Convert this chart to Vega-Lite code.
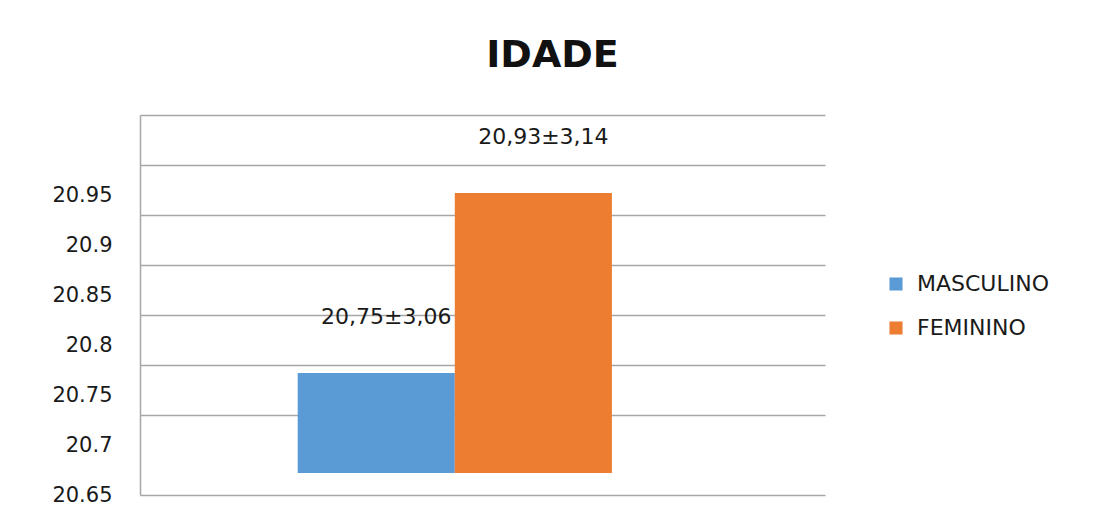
{
  "$schema": "https://vega.github.io/schema/vega-lite/v6.json",
  "width": 685,
  "height": 380,
  "autosize": {"type": "none"},
  "padding": {"left": 140, "top": 115, "right": 270, "bottom": 29},
  "background": "white",
  "config": {
    "font": "DejaVu Sans",
    "view": {"stroke": null},
    "axis": {"labelFont": "DejaVu Sans", "labelColor": "#1a1a1a"}
  },
  "title": {
    "text": "IDADE",
    "font": "DejaVu Sans",
    "fontSize": 38,
    "fontWeight": "bold",
    "color": "#111111",
    "anchor": "middle",
    "frame": "group",
    "dx": 70,
    "offset": 40
  },
  "data": {
    "values": [
      {"sexo": "MASCULINO", "idade": 20.75, "rotulo": "20,75±3,06"},
      {"sexo": "FEMININO", "idade": 20.93, "rotulo": "20,93±3,14"}
    ]
  },
  "encoding": {
    "x": {
      "field": "sexo",
      "type": "nominal",
      "scale": {"domain": ["MASCULINO", "FEMININO", " "], "paddingInner": 0, "paddingOuter": 0.68, "align": 0.738},
      "axis": {"title": null, "labels": false, "ticks": false, "domainColor": "#a6a6a6", "domainWidth": 1.5}
    }
  },
  "layer": [
    {
      "mark": {"type": "bar", "yOffset": -22, "y2Offset": -22},
      "encoding": {
        "y": {
          "field": "idade",
          "type": "quantitative",
          "scale": {"domain": [20.65, 21.03], "zero": false, "nice": false},
          "axis": {
            "title": null,
            "orient": "left",
            "values": [20.65, 20.7, 20.75, 20.8, 20.85, 20.9, 20.95],
            "format": "~g",
            "grid": false,
            "ticks": false,
            "labelPadding": 28,
            "labelFontSize": 21,
            "domainColor": "#a6a6a6",
            "domainWidth": 1.5
          }
        },
        "y2": {"datum": 20.65},
        "color": {
          "field": "sexo",
          "type": "nominal",
          "sort": ["MASCULINO", "FEMININO"],
          "scale": {"domain": ["MASCULINO", "FEMININO"], "range": ["#5b9bd5", "#ed7d31"]},
          "legend": {
            "title": null,
            "orient": "none",
            "legendX": 745,
            "legendY": 158,
            "symbolType": "square",
            "symbolSize": 170,
            "symbolStrokeWidth": 0,
            "labelFontSize": 22,
            "labelFont": "DejaVu Sans",
            "labelColor": "#1a1a1a",
            "labelOffset": 10,
            "rowPadding": 22
          }
        }
      }
    },
    {
      "mark": {"type": "text", "fontSize": 22, "font": "DejaVu Sans", "color": "#1a1a1a", "dy": -78, "dx": 10, "baseline": "middle"},
      "encoding": {
        "y": {
          "field": "idade",
          "type": "quantitative",
          "axis": {
            "title": null,
            "orient": "right",
            "values": [20.73, 20.78, 20.83, 20.88, 20.93, 20.98, 21.03],
            "labels": false,
            "ticks": false,
            "domain": false,
            "grid": true,
            "gridColor": "#a6a6a6",
            "gridWidth": 1.5
          }
        },
        "text": {"field": "rotulo"}
      }
    }
  ],
  "resolve": {"axis": {"y": "independent"}}
}
